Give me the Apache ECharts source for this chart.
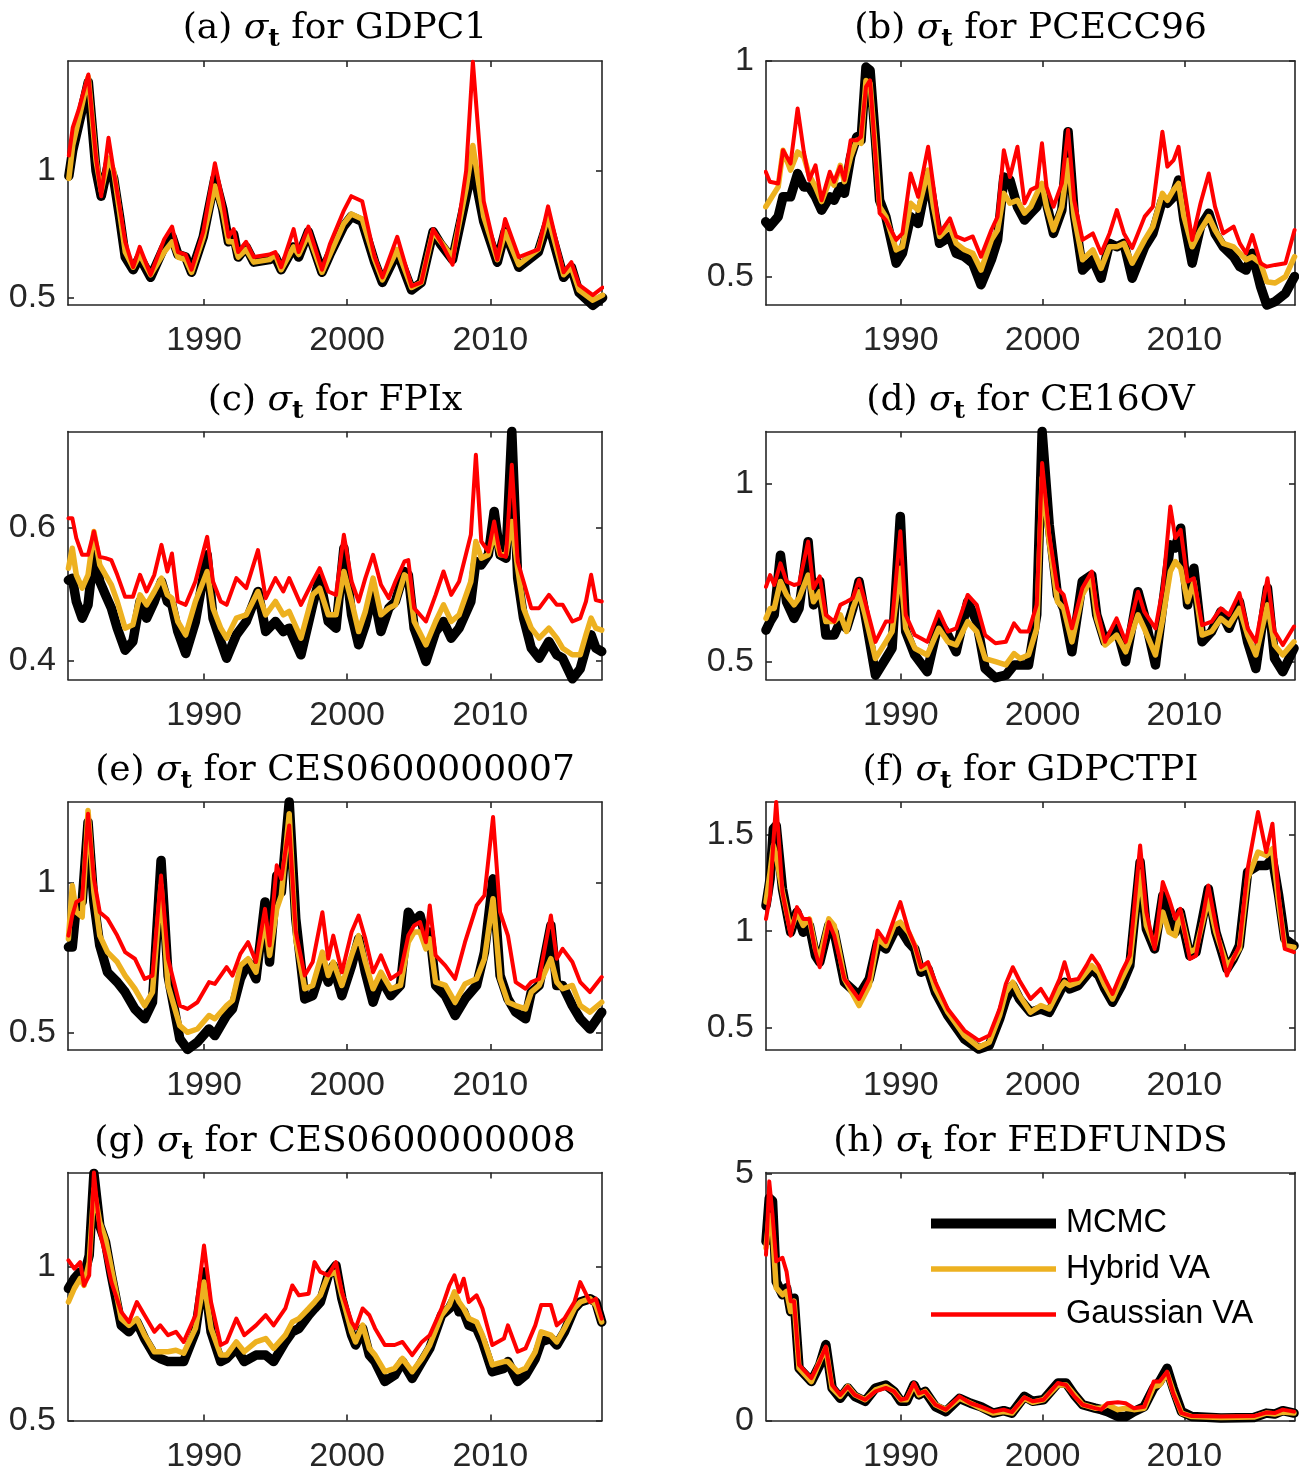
<!DOCTYPE html>
<html>
<head>
<meta charset="utf-8">
<script src="https://cdn.jsdelivr.net/npm/echarts@6/dist/echarts.min.js"></script>
<style>
html,body{margin:0;padding:0;background:#ffffff;}
#chart{width:1299px;height:1476px;}
</style>
</head>
<body>
<div id="chart"></div>
<script>
// ---------- data ----------
const seriesNames = ['MCMC', 'Hybrid VA', 'Gaussian VA'];
const xTickValues = [1990, 2000, 2010];

// (a) GDPC1
const yearsA = [1980.56,1980.83,1981.24,1981.92,1982.46,1982.82,1983.33,1983.69,1984.10,1984.50,1985.05,1985.51,1986.27,1987.22,1987.77,1988.18,1988.72,1989.13,1989.95,1990.76,1991.31,1991.71,1992.07,1992.39,1992.94,1993.48,1994.57,1994.98,1995.39,1996.26,1996.61,1997.29,1998.24,1998.79,1999.74,2000.29,2001.05,2001.92,2002.46,2003.50,2004.50,2005.18,2006.0,2006.54,2007.36,2008.31,2008.78,2009.54,2010.49,2011.03,2011.99,2013.35,2014.03,2015.12,2015.66,2016.20,2017.16,2017.84];
const mcmcA = [0.98,1.08,1.18,1.35,1.0,0.9,1.03,0.97,0.82,0.66,0.61,0.66,0.58,0.70,0.74,0.67,0.66,0.60,0.74,0.97,0.85,0.72,0.75,0.66,0.70,0.64,0.65,0.66,0.61,0.70,0.66,0.76,0.60,0.67,0.78,0.82,0.80,0.64,0.56,0.68,0.53,0.56,0.76,0.71,0.65,0.90,1.02,0.80,0.64,0.76,0.62,0.68,0.80,0.58,0.62,0.52,0.47,0.50];
const hybridA = [0.97,1.10,1.20,1.37,1.04,0.92,1.05,1.0,0.84,0.68,0.62,0.67,0.59,0.68,0.72,0.66,0.65,0.60,0.74,0.94,0.84,0.72,0.72,0.66,0.69,0.64,0.65,0.67,0.61,0.70,0.67,0.75,0.60,0.67,0.79,0.83,0.81,0.65,0.57,0.69,0.54,0.56,0.76,0.72,0.66,0.93,1.10,0.82,0.65,0.76,0.63,0.69,0.82,0.59,0.62,0.53,0.49,0.51];
const gaussA = [1.06,1.17,1.24,1.38,1.05,0.90,1.13,1.0,0.86,0.72,0.62,0.70,0.59,0.73,0.78,0.68,0.67,0.61,0.76,1.03,0.88,0.74,0.77,0.68,0.72,0.66,0.67,0.68,0.62,0.77,0.68,0.78,0.61,0.71,0.84,0.90,0.88,0.66,0.58,0.74,0.545,0.56,0.77,0.72,0.63,1.0,1.43,0.88,0.65,0.81,0.66,0.69,0.86,0.60,0.64,0.55,0.51,0.54];

// (b) PCECC96
const yearsB = [1980.48,1980.77,1981.36,1981.7,1982.23,1982.73,1983.17,1983.55,1983.99,1984.42,1985.0,1985.3,1985.74,1986.03,1986.47,1986.9,1987.2,1987.55,1987.84,1988.22,1988.51,1988.95,1989.68,1990.12,1990.7,1991.23,1991.93,1992.31,1992.74,1993.47,1993.91,1994.5,1995.08,1995.66,1996.39,1996.83,1997.27,1997.7,1998.23,1998.73,1999.17,1999.6,1999.96,2000.28,2000.77,2001.36,2001.8,2002.23,2002.82,2003.55,2004.13,2004.72,2005.24,2005.74,2006.32,2007.2,2007.78,2008.45,2008.8,2009.24,2009.59,2009.97,2010.55,2011.14,2011.72,2012.16,2012.74,2013.47,2013.91,2014.35,2014.79,2015.37,2015.81,2016.4,2017.13,2017.77];
const mcmcB = [0.627,0.616,0.639,0.685,0.685,0.739,0.708,0.708,0.685,0.654,0.685,0.677,0.708,0.693,0.778,0.824,0.816,0.986,0.978,0.816,0.677,0.639,0.531,0.554,0.639,0.623,0.739,0.662,0.577,0.593,0.554,0.546,0.531,0.481,0.539,0.585,0.731,0.724,0.662,0.631,0.647,0.662,0.708,0.670,0.600,0.654,0.836,0.647,0.515,0.539,0.496,0.577,0.569,0.577,0.496,0.569,0.600,0.677,0.670,0.685,0.724,0.631,0.531,0.616,0.647,0.600,0.569,0.546,0.523,0.515,0.554,0.477,0.434,0.442,0.461,0.500];
const hybridB = [0.662,0.677,0.708,0.793,0.747,0.789,0.778,0.735,0.708,0.674,0.724,0.712,0.758,0.720,0.778,0.816,0.809,0.955,0.948,0.793,0.662,0.639,0.562,0.569,0.670,0.654,0.747,0.662,0.593,0.616,0.577,0.562,0.554,0.515,0.585,0.608,0.693,0.670,0.677,0.647,0.662,0.693,0.716,0.662,0.608,0.662,0.770,0.639,0.539,0.562,0.519,0.569,0.569,0.577,0.531,0.585,0.616,0.693,0.677,0.701,0.716,0.639,0.569,0.608,0.639,0.608,0.577,0.569,0.554,0.539,0.546,0.531,0.488,0.485,0.500,0.546];
const gaussB = [0.743,0.720,0.716,0.793,0.762,0.890,0.789,0.724,0.758,0.677,0.743,0.720,0.755,0.724,0.816,0.816,0.824,0.940,0.955,0.778,0.647,0.631,0.585,0.600,0.739,0.685,0.801,0.708,0.600,0.635,0.593,0.585,0.593,0.546,0.608,0.639,0.793,0.731,0.801,0.670,0.701,0.708,0.809,0.708,0.662,0.716,0.840,0.677,0.585,0.600,0.554,0.600,0.654,0.600,0.566,0.639,0.662,0.836,0.755,0.770,0.801,0.708,0.585,0.670,0.739,0.662,0.600,0.616,0.577,0.554,0.596,0.531,0.523,0.527,0.531,0.608];

// (c) FPIx
const yearsC = [1980.53,1980.8,1981.08,1981.49,1981.9,1982.31,1982.72,1983.12,1983.53,1983.94,1984.49,1985.03,1985.53,1985.99,1986.53,1987.03,1987.44,1987.76,1988.17,1988.72,1989.4,1990.22,1990.63,1991.17,1991.58,1992.26,1992.95,1993.77,1994.31,1994.99,1995.54,1995.95,1996.77,1997.59,1998.08,1998.68,1999.22,1999.77,2000.31,2000.8,2001.27,2001.81,2002.36,2002.91,2003.37,2004.0,2004.27,2004.68,2005.5,2006.18,2006.73,2007.27,2007.82,2008.64,2008.99,2009.37,2009.86,2010.27,2010.68,2011.09,2011.5,2011.91,2012.32,2012.86,2013.41,2014.09,2014.64,2015.05,2015.73,2016.28,2016.68,2017.04,2017.37,2017.78];
const mcmcC = [0.521,0.524,0.489,0.464,0.484,0.564,0.519,0.499,0.479,0.449,0.416,0.429,0.489,0.464,0.489,0.519,0.489,0.484,0.444,0.411,0.459,0.559,0.464,0.429,0.404,0.439,0.459,0.504,0.444,0.459,0.444,0.449,0.409,0.484,0.524,0.459,0.449,0.569,0.469,0.424,0.454,0.504,0.444,0.479,0.489,0.534,0.529,0.449,0.399,0.444,0.459,0.434,0.449,0.489,0.549,0.544,0.559,0.624,0.559,0.554,0.744,0.524,0.464,0.419,0.404,0.429,0.409,0.404,0.373,0.388,0.419,0.439,0.419,0.414];
const hybridC = [0.539,0.569,0.529,0.509,0.529,0.594,0.544,0.529,0.514,0.489,0.449,0.454,0.499,0.484,0.504,0.524,0.499,0.494,0.459,0.439,0.489,0.534,0.479,0.449,0.434,0.464,0.469,0.504,0.469,0.489,0.469,0.474,0.434,0.499,0.509,0.469,0.469,0.534,0.489,0.444,0.474,0.524,0.469,0.479,0.484,0.529,0.524,0.459,0.424,0.459,0.484,0.459,0.469,0.519,0.579,0.554,0.559,0.589,0.559,0.559,0.609,0.539,0.479,0.449,0.434,0.449,0.434,0.419,0.409,0.409,0.439,0.464,0.449,0.446];
const gaussC = [0.614,0.614,0.584,0.559,0.559,0.594,0.556,0.554,0.551,0.529,0.496,0.496,0.529,0.504,0.529,0.574,0.534,0.561,0.489,0.484,0.519,0.586,0.519,0.489,0.484,0.524,0.509,0.566,0.494,0.524,0.504,0.524,0.484,0.519,0.539,0.504,0.499,0.589,0.519,0.489,0.524,0.559,0.514,0.494,0.519,0.549,0.551,0.479,0.459,0.499,0.534,0.499,0.519,0.589,0.709,0.579,0.564,0.609,0.559,0.556,0.694,0.549,0.519,0.479,0.479,0.499,0.484,0.484,0.459,0.464,0.489,0.529,0.491,0.489];

// (d) CE16OV
const yearsD = [1980.5,1980.79,1981.08,1981.52,1981.95,1982.48,1982.83,1983.47,1983.85,1984.29,1984.72,1985.31,1985.74,1986.18,1986.62,1987.06,1987.49,1988.22,1988.95,1989.39,1989.97,1990.35,1990.99,1991.87,1992.68,1993.32,1993.91,1994.72,1995.36,1995.95,1996.68,1997.41,1997.99,1998.43,1999.01,1999.59,1999.97,2000.47,2001.05,2001.49,2002.07,2002.8,2003.47,2003.82,2004.4,2005.22,2005.86,2006.73,2007.17,2007.96,2008.48,2009.01,2009.36,2009.74,2010.23,2010.67,2011.25,2011.92,2012.57,2013.15,2013.88,2014.46,2015.04,2015.86,2016.36,2016.94,2017.73];
const mcmcD = [0.589,0.613,0.632,0.8,0.669,0.622,0.65,0.838,0.66,0.726,0.575,0.575,0.613,0.594,0.65,0.726,0.632,0.462,0.509,0.538,0.909,0.585,0.519,0.472,0.613,0.575,0.528,0.669,0.613,0.481,0.455,0.462,0.491,0.491,0.491,0.632,1.148,0.885,0.688,0.65,0.528,0.726,0.744,0.632,0.556,0.594,0.5,0.697,0.632,0.491,0.66,0.829,0.82,0.876,0.66,0.763,0.556,0.585,0.641,0.594,0.669,0.556,0.481,0.707,0.509,0.472,0.538];
const hybridD = [0.622,0.65,0.65,0.726,0.688,0.66,0.679,0.744,0.669,0.697,0.613,0.613,0.632,0.585,0.65,0.697,0.632,0.509,0.556,0.585,0.763,0.594,0.538,0.519,0.594,0.556,0.547,0.613,0.585,0.509,0.5,0.491,0.523,0.509,0.519,0.594,1.017,0.838,0.669,0.65,0.556,0.688,0.735,0.622,0.547,0.575,0.528,0.632,0.594,0.519,0.622,0.754,0.782,0.763,0.669,0.726,0.575,0.585,0.622,0.603,0.65,0.575,0.519,0.66,0.547,0.519,0.556];
const gaussD = [0.711,0.744,0.716,0.777,0.726,0.716,0.72,0.838,0.707,0.74,0.632,0.613,0.66,0.669,0.679,0.73,0.669,0.556,0.613,0.613,0.867,0.632,0.575,0.556,0.641,0.585,0.594,0.688,0.66,0.575,0.552,0.556,0.608,0.585,0.585,0.66,1.059,0.857,0.707,0.688,0.594,0.707,0.754,0.65,0.556,0.622,0.556,0.697,0.641,0.594,0.707,0.937,0.848,0.871,0.726,0.735,0.603,0.613,0.65,0.632,0.693,0.594,0.556,0.735,0.585,0.547,0.599];

// (e) CES0600000007
const yearsE = [1980.53,1980.8,1981.08,1981.49,1981.9,1982.31,1982.72,1983.26,1983.94,1984.49,1985.17,1985.85,1986.4,1987.0,1987.49,1988.31,1988.85,1989.54,1990.35,1990.76,1991.58,1991.99,1992.54,1993.08,1993.63,1994.26,1994.58,1995.08,1995.4,1995.95,1996.41,1997.04,1997.59,1998.27,1998.68,1999.03,1999.63,2000.31,2000.8,2001.27,2001.81,2002.36,2003.04,2003.72,2004.27,2004.68,2005.09,2005.5,2005.77,2006.18,2006.86,2007.54,2008.23,2009.04,2009.59,2010.19,2010.68,2011.23,2011.77,2012.46,2012.86,2013.41,2014.23,2014.64,2015.05,2015.73,2016.28,2016.96,2017.78];
const mcmcE = [0.786,0.786,0.924,0.936,1.202,0.936,0.791,0.702,0.669,0.636,0.58,0.547,0.602,1.074,0.691,0.48,0.445,0.469,0.513,0.491,0.558,0.58,0.68,0.736,0.68,0.936,0.736,1.024,0.969,1.269,0.88,0.613,0.624,0.724,0.669,0.724,0.624,0.724,0.813,0.702,0.602,0.68,0.624,0.658,0.902,0.869,0.891,0.813,0.836,0.658,0.624,0.558,0.613,0.658,0.769,1.013,0.691,0.613,0.569,0.547,0.636,0.658,0.858,0.658,0.658,0.591,0.547,0.513,0.569];
const hybridE = [0.813,0.991,0.902,0.886,1.241,0.969,0.824,0.769,0.736,0.691,0.647,0.591,0.636,0.991,0.658,0.524,0.502,0.513,0.558,0.547,0.591,0.608,0.724,0.747,0.702,0.88,0.758,0.913,0.958,1.23,0.813,0.647,0.658,0.769,0.691,0.736,0.658,0.758,0.824,0.736,0.647,0.702,0.647,0.658,0.802,0.836,0.836,0.78,0.813,0.669,0.658,0.602,0.663,0.68,0.747,0.947,0.68,0.602,0.591,0.58,0.636,0.658,0.747,0.669,0.647,0.658,0.591,0.569,0.602];
const gaussE = [0.824,0.891,0.936,0.947,1.23,1.013,0.902,0.88,0.824,0.769,0.747,0.68,0.691,1.024,0.747,0.591,0.58,0.602,0.669,0.663,0.719,0.691,0.763,0.802,0.736,0.913,0.791,1.058,1.013,1.191,0.836,0.691,0.736,0.902,0.747,0.824,0.702,0.836,0.891,0.813,0.702,0.758,0.68,0.702,0.824,0.858,0.869,0.802,0.924,0.758,0.724,0.68,0.802,0.924,0.958,1.219,0.902,0.824,0.669,0.647,0.669,0.68,0.891,0.747,0.78,0.736,0.669,0.636,0.686];

// (f) GDPCTPI
const yearsF = [1980.5,1980.79,1981.02,1981.22,1981.66,1982.24,1982.68,1983.12,1983.56,1983.99,1984.29,1984.93,1985.31,1986.03,1987.06,1987.78,1988.37,1988.95,1989.53,1989.97,1990.55,1990.99,1991.43,1991.92,1992.45,1993.32,1994.49,1995.51,1996.24,1996.97,1997.41,1997.9,1998.37,1999.15,1999.88,2000.47,2001.2,2001.55,2001.92,2002.51,2003.09,2003.47,2003.97,2004.4,2004.93,2005.57,2006.15,2006.88,2007.32,2007.9,2008.48,2008.92,2009.36,2009.71,2010.38,2010.82,2011.69,2012.22,2013.0,2013.44,2013.88,2014.46,2015.19,2015.77,2016.21,2016.65,2017.08,2017.73];
const mcmcF = [1.133,1.272,1.532,1.549,1.22,0.995,1.099,0.995,1.03,0.873,0.839,1.03,0.995,0.735,0.666,0.752,0.943,0.908,0.995,1.012,0.943,0.908,0.787,0.804,0.683,0.562,0.44,0.388,0.406,0.544,0.648,0.718,0.648,0.579,0.596,0.579,0.683,0.735,0.7,0.718,0.77,0.804,0.77,0.7,0.631,0.718,0.821,1.359,1.012,0.908,1.185,1.047,0.995,1.099,0.873,0.891,1.22,0.995,0.804,0.856,0.925,1.307,1.341,1.341,1.376,1.185,0.96,0.925];
const hybridF = [1.151,1.307,1.445,1.393,1.203,1.003,1.099,1.03,1.064,0.908,0.856,1.064,1.03,0.752,0.614,0.718,0.96,0.925,1.03,1.047,0.995,0.925,0.804,0.821,0.7,0.579,0.458,0.397,0.423,0.562,0.683,0.735,0.666,0.579,0.614,0.596,0.7,0.735,0.718,0.735,0.787,0.821,0.787,0.718,0.648,0.752,0.839,1.307,1.03,0.925,1.099,0.995,0.977,1.099,0.891,0.908,1.168,0.995,0.821,0.856,0.908,1.272,1.411,1.393,1.428,1.151,0.925,0.917];
const gaussF = [1.064,1.185,1.463,1.671,1.203,0.977,1.125,1.064,1.064,0.891,0.813,1.047,0.977,0.752,0.648,0.752,1.003,0.943,1.064,1.151,1.003,0.925,0.813,0.839,0.735,0.596,0.484,0.432,0.458,0.596,0.726,0.813,0.744,0.648,0.7,0.631,0.752,0.839,0.744,0.752,0.821,0.873,0.821,0.752,0.674,0.787,0.873,1.445,1.099,0.908,1.255,1.168,1.064,1.116,0.856,0.873,1.237,1.03,0.77,0.856,0.925,1.324,1.619,1.411,1.558,1.185,0.908,0.891];

// (g) CES0600000008
const yearsG = [1980.53,1980.94,1981.35,1981.62,1981.98,1982.31,1982.72,1983.12,1983.53,1984.22,1984.76,1985.31,1985.85,1986.53,1986.94,1987.49,1988.04,1988.58,1989.4,1990.0,1990.49,1991.17,1991.58,1992.26,1992.81,1993.63,1994.31,1994.86,1995.68,1996.17,1996.63,1997.31,1997.72,1998.13,1998.68,1999.22,1999.63,2000.31,2000.59,2001.08,2001.55,2001.95,2002.63,2003.32,2003.86,2004.54,2005.22,2005.77,2006.59,2007.14,2007.49,2007.82,2008.14,2008.5,2009.04,2009.45,2010.14,2010.95,2011.23,2011.91,2012.46,2013.14,2013.55,2014.23,2014.64,2015.18,2015.87,2016.28,2016.96,2017.37,2017.78];
const mcmcG = [0.93,0.962,0.984,0.973,1.038,1.305,1.135,1.081,0.973,0.81,0.789,0.821,0.767,0.713,0.702,0.692,0.692,0.692,0.789,0.984,0.789,0.692,0.702,0.735,0.692,0.713,0.713,0.692,0.757,0.789,0.8,0.843,0.865,0.886,0.973,1.005,0.897,0.778,0.746,0.8,0.713,0.692,0.627,0.648,0.692,0.637,0.692,0.735,0.843,0.865,0.897,0.854,0.854,0.81,0.8,0.757,0.659,0.67,0.692,0.627,0.648,0.702,0.757,0.767,0.746,0.789,0.865,0.886,0.897,0.886,0.821];
const hybridG = [0.886,0.93,0.962,0.94,1.016,1.254,1.146,1.092,0.995,0.832,0.81,0.832,0.778,0.724,0.724,0.724,0.729,0.719,0.8,0.951,0.8,0.713,0.713,0.756,0.724,0.756,0.767,0.735,0.778,0.821,0.832,0.865,0.886,0.908,0.973,0.984,0.908,0.789,0.756,0.811,0.735,0.713,0.659,0.67,0.702,0.659,0.702,0.746,0.843,0.876,0.919,0.886,0.865,0.832,0.821,0.778,0.681,0.692,0.692,0.659,0.67,0.724,0.789,0.778,0.756,0.8,0.865,0.886,0.897,0.876,0.821];
const gaussG = [1.022,0.995,1.016,0.94,0.973,1.308,1.114,1.038,0.951,0.854,0.821,0.886,0.843,0.789,0.81,0.778,0.789,0.756,0.843,1.07,0.886,0.746,0.756,0.832,0.778,0.81,0.843,0.81,0.865,0.94,0.908,0.913,1.016,0.984,0.973,1.016,0.919,0.821,0.8,0.865,0.843,0.8,0.746,0.746,0.756,0.713,0.756,0.778,0.865,0.94,0.973,0.919,0.962,0.886,0.908,0.865,0.746,0.767,0.81,0.724,0.735,0.81,0.876,0.876,0.81,0.832,0.886,0.951,0.886,0.897,0.832];

// (h) FEDFUNDS
const yearsH = [1980.5,1980.73,1980.96,1981.22,1981.66,1981.95,1982.24,1982.48,1982.83,1983.7,1984.29,1984.72,1985.16,1985.74,1986.27,1986.76,1987.49,1988.22,1988.95,1989.53,1990.0,1990.41,1990.93,1991.28,1991.72,1992.45,1993.18,1994.14,1994.93,1995.66,1996.53,1997.26,1997.84,1998.72,1999.3,2000.06,2001.08,2001.66,2002.24,2002.83,2003.7,2004.14,2004.58,2005.31,2005.86,2006.44,2007.17,2007.84,2008.25,2008.78,2009.21,2009.8,2010.52,2012.57,2014.9,2015.77,2016.36,2016.94,2017.73];
const mcmcH = [3.63,4.51,4.45,2.82,2.55,2.69,2.21,2.48,1.06,0.79,1.13,1.54,0.66,0.45,0.66,0.49,0.39,0.66,0.72,0.59,0.39,0.39,0.72,0.52,0.59,0.28,0.18,0.45,0.35,0.28,0.15,0.2,0.15,0.49,0.39,0.42,0.76,0.76,0.52,0.32,0.25,0.22,0.18,0.08,0.08,0.18,0.28,0.66,0.79,1.06,0.66,0.18,0.08,0.05,0.06,0.15,0.13,0.2,0.15];
const hybridH = [3.5,4.17,3.84,2.69,2.55,2.62,2.21,2.42,1.06,0.79,1.2,1.47,0.66,0.49,0.69,0.52,0.42,0.62,0.69,0.59,0.42,0.42,0.72,0.52,0.59,0.32,0.22,0.45,0.35,0.25,0.15,0.18,0.15,0.45,0.37,0.42,0.72,0.72,0.52,0.32,0.25,0.25,0.32,0.22,0.25,0.22,0.25,0.69,0.72,0.96,0.59,0.15,0.08,0.06,0.07,0.15,0.13,0.17,0.15];
const gaussH = [3.36,4.85,4.17,3.23,3.3,3.02,2.42,2.42,1.13,0.86,1.2,1.5,0.72,0.52,0.69,0.52,0.42,0.59,0.66,0.59,0.42,0.45,0.76,0.55,0.59,0.32,0.22,0.49,0.35,0.28,0.18,0.22,0.17,0.47,0.39,0.42,0.76,0.72,0.49,0.32,0.25,0.22,0.35,0.37,0.35,0.25,0.28,0.79,0.79,0.99,0.55,0.15,0.09,0.08,0.09,0.16,0.15,0.22,0.18];

// y tick labels per panel
const yTicksA = [0.5, 1];
const yTicksB = [0.5, 1];
const yTicksC = [0.4, 0.6];
const yTicksD = [0.5, 1];
const yTicksE = [0.5, 1];
const yTicksF = [0.5, 1, 1.5];
const yTicksG = [0.5, 1];
const yTicksH = [0, 5];

// ---------- layout / style ----------
const X_MIN = 1980.5, X_MAX = 2017.8;
const colors = ['#000000', '#EDB120', '#FF0000'];
const widths = [9.5, 5.5, 4];
const legendWidths = [10, 5.7, 4.7];
const axisColor = '#262626';
const cols = [{left: 68, width: 534}, {left: 766, width: 529}];
const rows = [
  {top: 61, height: 244, titleY: 29},
  {top: 431.5, height: 248, titleY: 401},
  {top: 802, height: 248, titleY: 771},
  {top: 1172.5, height: 248, titleY: 1142}
];

const panels = [
  {tag: '(a)', name: 'GDPC1', years: yearsA, vals: [mcmcA, hybridA, gaussA], yMin: 0.471, yMax: 1.433, ticks: yTicksA},
  {tag: '(b)', name: 'PCECC96', years: yearsB, vals: [mcmcB, hybridB, gaussB], yMin: 0.434, yMax: 1.0, ticks: yTicksB},
  {tag: '(c)', name: 'FPIx', years: yearsC, vals: [mcmcC, hybridC, gaussC], yMin: 0.372, yMax: 0.744, ticks: yTicksC},
  {tag: '(d)', name: 'CE16OV', years: yearsD, vals: [mcmcD, hybridD, gaussD], yMin: 0.45, yMax: 1.148, ticks: yTicksD},
  {tag: '(e)', name: 'CES0600000007', years: yearsE, vals: [mcmcE, hybridE, gaussE], yMin: 0.443, yMax: 1.269, ticks: yTicksE},
  {tag: '(f)', name: 'GDPCTPI', years: yearsF, vals: [mcmcF, hybridF, gaussF], yMin: 0.383, yMax: 1.671, ticks: yTicksF},
  {tag: '(g)', name: 'CES0600000008', years: yearsG, vals: [mcmcG, hybridG, gaussG], yMin: 0.5, yMax: 1.308, ticks: yTicksG},
  {tag: '(h)', name: 'FEDFUNDS', years: yearsH, vals: [mcmcH, hybridH, gaussH], yMin: 0, yMax: 5.03, ticks: yTicksH}
];

const grid = [], xAxis = [], yAxis = [], series = [], graphic = [];
const tickLabelStyle = {fontFamily: 'Liberation Sans', fontSize: 34, color: axisColor};
const lineSt = {color: axisColor, width: 1.6};

panels.forEach((p, i) => {
  const c = cols[i % 2], r = rows[Math.floor(i / 2)];
  grid.push({left: c.left, top: r.top, width: c.width, height: r.height, containLabel: false, outerBoundsMode: 'none'});
  xAxis.push({
    type: 'value', gridIndex: i, min: X_MIN, max: X_MAX, position: 'bottom',
    axisLine: {show: true, onZero: false, lineStyle: lineSt},
    axisTick: {show: true, inside: true, length: 6, customValues: xTickValues, lineStyle: lineSt},
    axisLabel: Object.assign({show: true, margin: 19, customValues: xTickValues, formatter: v => String(v)}, tickLabelStyle),
    splitLine: {show: false}
  });
  xAxis.push({
    type: 'value', gridIndex: i, min: X_MIN, max: X_MAX, position: 'top',
    axisLine: {show: true, onZero: false, lineStyle: lineSt},
    axisTick: {show: true, inside: true, length: 6, customValues: xTickValues, lineStyle: lineSt},
    axisLabel: {show: false},
    splitLine: {show: false}
  });
  yAxis.push({
    type: 'value', gridIndex: i, min: p.yMin, max: p.yMax, position: 'left',
    axisLine: {show: true, onZero: false, lineStyle: lineSt},
    axisTick: {show: true, inside: true, length: 6, customValues: p.ticks, lineStyle: lineSt},
    axisLabel: Object.assign({show: true, margin: 12, customValues: p.ticks, formatter: v => String(v)}, tickLabelStyle),
    splitLine: {show: false}
  });
  yAxis.push({
    type: 'value', gridIndex: i, min: p.yMin, max: p.yMax, position: 'right',
    axisLine: {show: true, onZero: false, lineStyle: lineSt},
    axisTick: {show: true, inside: true, length: 6, customValues: p.ticks, lineStyle: lineSt},
    axisLabel: {show: false},
    splitLine: {show: false}
  });
  p.vals.forEach((v, k) => {
    series.push({
      type: 'line', name: seriesNames[k],
      xAxisIndex: 2 * i, yAxisIndex: 2 * i,
      data: p.years.map((yr, j) => [yr, v[j]]),
      symbol: 'none', showSymbol: false, clip: false, silent: true,
      lineStyle: {color: colors[k], width: widths[k], cap: 'round', join: 'round'},
      itemStyle: {color: colors[k]},
      z: 2 + k
    });
  });
  graphic.push({
    type: 'text', silent: true,
    x: c.left + c.width / 2, y: r.titleY,
    style: {
      text: p.tag + ' {s|σ}{t|t} for ' + p.name,
      fontFamily: 'DejaVu Serif', fontSize: 36, fill: '#000',
      align: 'center', verticalAlign: 'middle', lineHeight: 46,
      rich: {
        s: {fontFamily: 'DejaVu Serif', fontStyle: 'italic', fontSize: 36, lineHeight: 46},
        t: {fontFamily: 'DejaVu Serif', fontWeight: 'bold', fontSize: 25, lineHeight: 25, verticalAlign: 'bottom'}
      }
    }
  });
});

const chart = echarts.init(document.getElementById('chart'), null, {renderer: 'canvas'});
chart.setOption({
  animation: false,
  backgroundColor: '#ffffff',
  grid: grid,
  xAxis: xAxis,
  yAxis: yAxis,
  series: series,
  graphic: graphic,
  legend: {
    orient: 'vertical', left: 921, top: 1202,
    itemWidth: 125, itemHeight: 14, itemGap: 12.5,
    selectedMode: false,
    itemStyle: {opacity: 0, borderWidth: 0},
    textStyle: {fontFamily: 'Liberation Sans', fontSize: 32.5, color: '#000', lineHeight: 32, padding: [0, 0, 0, 5]},
    data: seriesNames.map((n, k) => ({name: n, lineStyle: {width: legendWidths[k], cap: 'butt'}}))
  }
});
</script>
</body>
</html>
